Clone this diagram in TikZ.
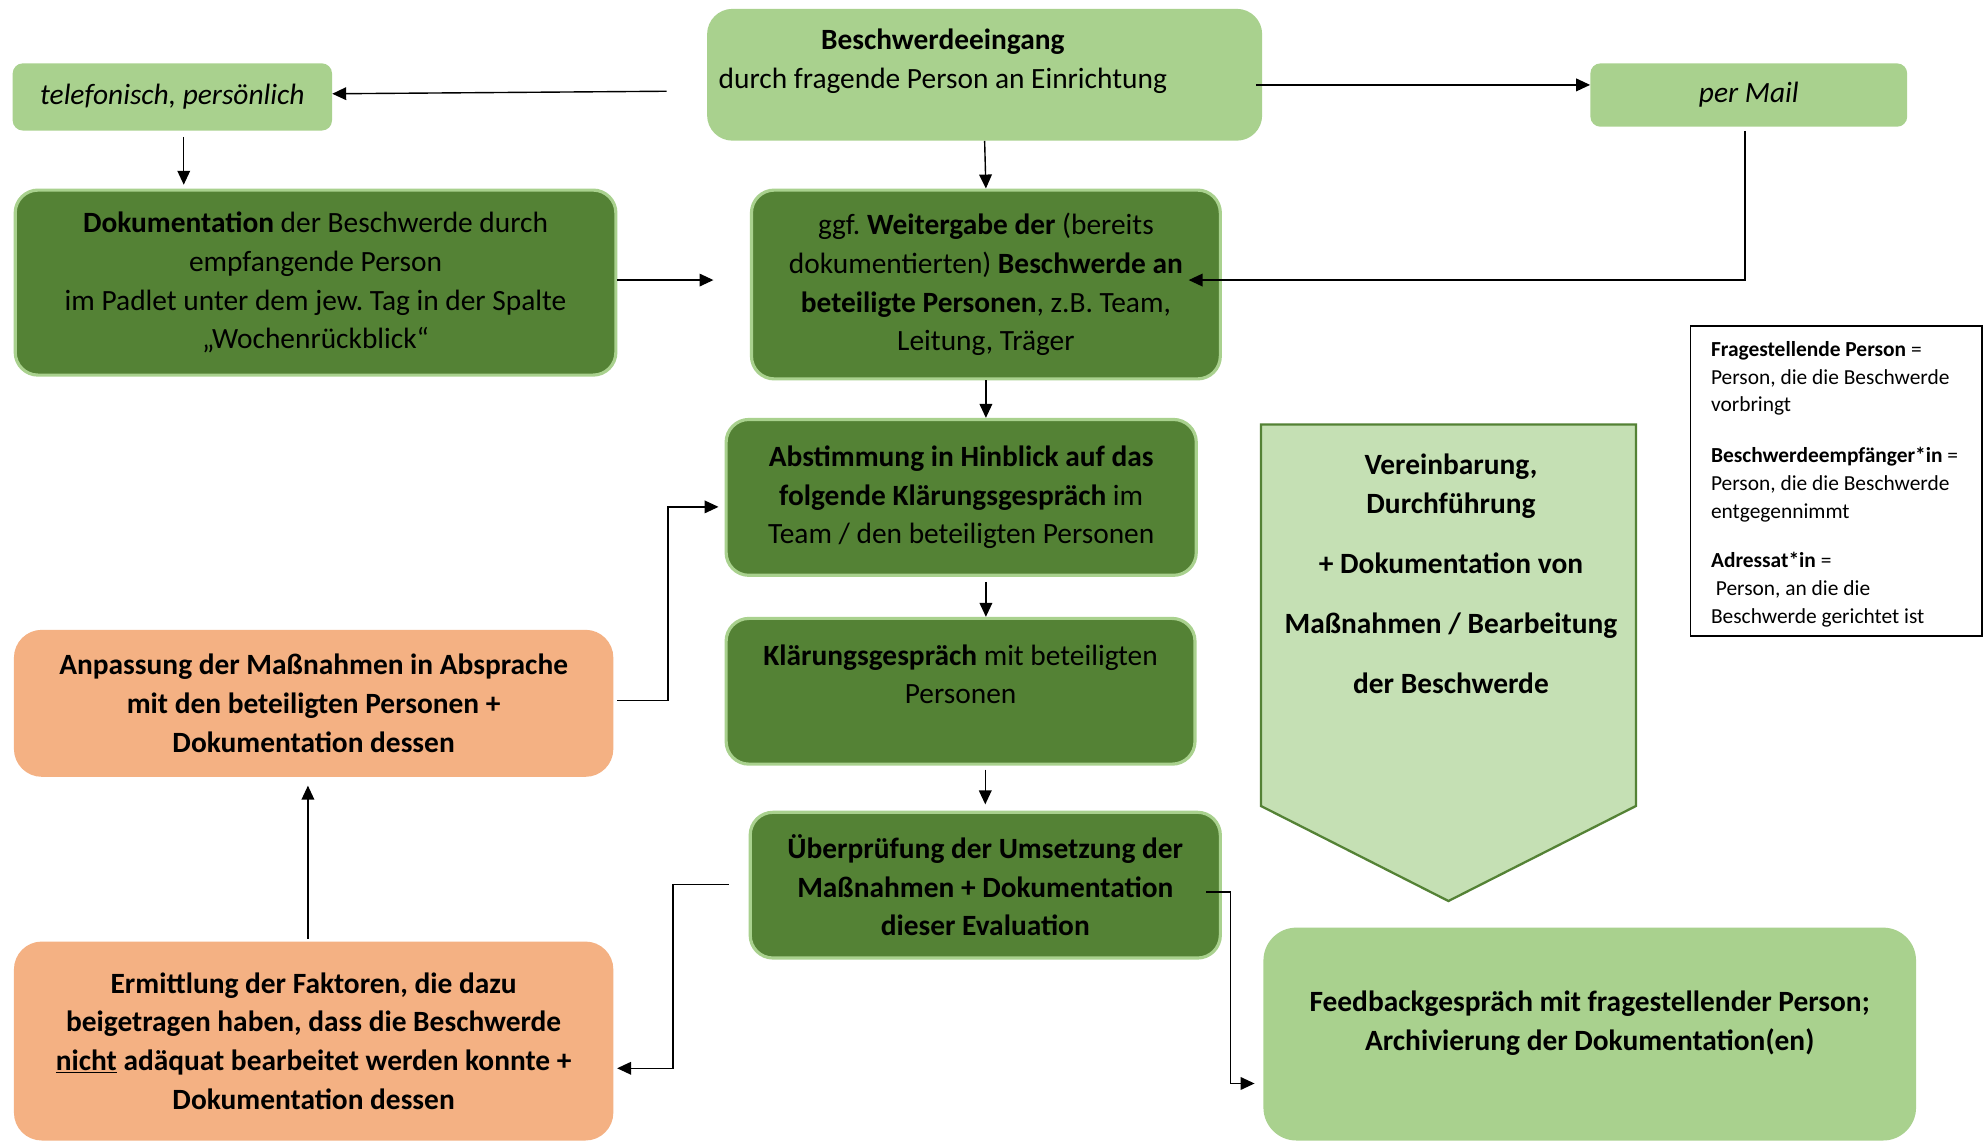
\documentclass[tikz,border=0pt]{standalone}
\usepackage{fontspec}
\setmainfont{Carlito}
\usetikzlibrary{arrows.meta}
\definecolor{lg}{HTML}{A9D18E}
\definecolor{dg}{HTML}{548235}
\definecolor{og}{HTML}{F4B183}
\definecolor{cg}{HTML}{C5E0B4}
\frenchspacing
\begin{document}
\begin{tikzpicture}[x=1pt,y=-1pt,
  every node/.style={font=\fontsize{23.2}{30.5}\selectfont, inner sep=0pt, align=center},
  lbox/.style={fill=lg, rounded corners=20pt},
  sbox/.style={fill=lg, rounded corners=8pt},
  dbox/.style={fill=dg, draw=lg, line width=2.5pt, rounded corners=18pt},
  obox/.style={fill=og, rounded corners=22pt},
  legendbox/.style={draw=black, line width=1.5pt, fill=white},
  legendtext/.style={font=\fontsize{16.9}{22}\selectfont, align=left, anchor=north west},
  arr/.style={-{Triangle[length=11pt,width=10pt]}, line width=1.1pt, black},
]
\clip (0,0) rectangle (1568,900);
\fill[white] (0,0) rectangle (1568,900);

% boxes
\node[lbox, minimum width=438pt, minimum height=104pt] (eing) at (777,59) {};
\node (eingtext) at (744,48.5) {\textbf{Beschwerdeeingang}\\durch fragende Person an Einrichtung};
\node[sbox, minimum width=252pt, minimum height=53pt] (tel) at (136,76.5) {\itshape telefonisch, persönlich};
\node[sbox, minimum width=250pt, minimum height=50pt] (mail) at (1380,75) {\itshape per Mail};

\node[dbox, minimum width=474pt, minimum height=146pt] (dok) at (249,223)
  {\textbf{Dokumentation} der Beschwerde durch\\empfangende Person\\im Padlet unter dem jew. Tag in der Spalte\\„Wochenrückblick“};
\node[dbox, minimum width=370pt, minimum height=149pt] (weit) at (778,224.5)
  {ggf. \textbf{Weitergabe der} (bereits\\dokumentierten) \textbf{Beschwerde an}\\\textbf{beteiligte Personen}, z.B. Team,\\Leitung, Träger};
\node[dbox, minimum width=371pt, minimum height=123pt] (abst) at (758.5,392.5)
  {\textbf{Abstimmung in Hinblick auf das}\\\textbf{folgende Klärungsgespräch} im\\Team / den beteiligten Personen};
\node[dbox, minimum width=370pt, minimum height=115pt] (klar) at (758,545.5) {};
\node (klartext) at (758,532) {\textbf{Klärungsgespräch} mit beteiligten\\Personen};
\node[dbox, minimum width=371pt, minimum height=115pt] (uber) at (777.5,698.5)
  {\textbf{Überprüfung der Umsetzung der}\\\textbf{Maßnahmen + Dokumentation}\\\textbf{dieser Evaluation}};

\node[obox, minimum width=473pt, minimum height=116pt] (anp) at (247.5,555)
  {\bfseries Anpassung der Maßnahmen in Absprache\\\bfseries mit den beteiligten Personen +\\\bfseries Dokumentation dessen};
\node[obox, minimum width=473pt, minimum height=157pt] (erm) at (247.5,821.5)
  {\bfseries Ermittlung der Faktoren, die dazu\\\bfseries beigetragen haben, dass die Beschwerde\\\bfseries \underline{nicht} adäquat bearbeitet werden konnte +\\\bfseries Dokumentation dessen};

\node[lbox, rounded corners=26pt, minimum width=515pt, minimum height=168pt] (feed) at (1254.5,816) {};
\node (feedtext) at (1254.5,807.5) {\bfseries Feedbackgespräch mit fragestellender Person;\\\bfseries Archivierung der Dokumentation(en)};

% chevron
\draw[fill=cg, draw=dg, line width=1.8pt] (995,335) -- (1291,335) -- (1291,636) -- (1143,711) -- (995,636) -- cycle;
\node (chev) at (1145,453) {\bfseries Vereinbarung,\\\bfseries Durchführung\\[17pt]\bfseries + Dokumentation von\\[17pt]\bfseries Maßnahmen / Bearbeitung\\[17pt]\bfseries der Beschwerde};

% legend
\node[legendbox, minimum width=230pt, minimum height=245pt] (leg) at (1449,379.5) {};
\node[legendtext] (legtext) at (1350,269)
  {\textbf{Fragestellende Person} =\\Person, die die Beschwerde\\vorbringt\\[18pt]\textbf{Beschwerdeempfänger*in} =\\Person, die die Beschwerde\\entgegennimmt\\[17pt]\textbf{Adressat*in} =\\\ Person, an die die\\Beschwerde gerichtet ist};

% connectors
\coordinate (a1) at (526,72);
\draw[arr] (a1) -- ([yshift=2.5pt]tel.east);
\coordinate (b1) at (991,67);
\draw[arr] (b1) -- (b1 -| mail.west);
\coordinate (c1) at (145,108);
\draw[arr] (c1) -- ([yshift=3pt]c1 |- dok.north);
\draw[arr] (eing.south) -- (weit.north);
\coordinate (e1) at (563,221);
\draw[arr] (dok.east |- e1) -- (e1);
\coordinate (f1) at (1377,221);
\coordinate (f2) at (938,221);
\draw[arr] ([yshift=-3pt]mail.south -| f1) -- (f1) -- (f2);
\draw[arr] (weit.south) -- (weit.south |- abst.north);
\draw[arr] ([yshift=-4pt]abst.south -| weit.south) -- (weit.south |- klar.north);
\draw[arr] ([yshift=-3pt]klar.south -| uber.north) -- ([yshift=5pt]uber.north);
\coordinate (j1) at (567,400);
\coordinate (j0) at (487,553);
\draw[arr] (j0) -- ++(40,0) |- (j1);
\coordinate (k1) at (243,620);
\draw[arr] ([yshift=2pt]erm.north -| k1) -- (k1);
\coordinate (l1) at (575,698);
\coordinate (l2) at (487,843);
\draw[arr] (l1) -- ++(-44,0) |- (l2);
\coordinate (m1) at (952,704);
\coordinate (m2) at (990,855);
\draw[arr] (m1) -- ++(19,0) |- (m2);
\end{tikzpicture}
\end{document}
